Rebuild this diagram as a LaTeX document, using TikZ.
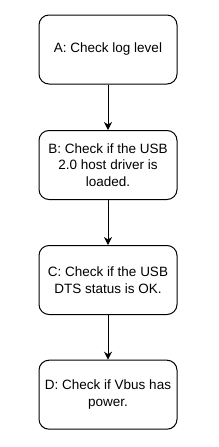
\documentclass[tikz,border=0pt]{standalone}
\usepackage{fontspec}
\setmainfont{Liberation Sans}
\usetikzlibrary{arrows.meta}
\begin{document}
\begin{tikzpicture}[x=1pt,y=-1pt,
  stepbox/.style={draw=black, line width=1pt, rounded corners=10pt, minimum width=138pt, minimum height=69pt,
    align=center, inner sep=0pt, font=\fontsize{13.5pt}{16.5pt}\selectfont},
  conn/.style={draw=black, line width=1pt, -{Stealth[length=8pt,width=8pt,inset=2.5pt]}}]
\useasboundingbox (0,0) rectangle (219,447);
\node[stepbox] (a) at (108,49.5) {A: Check log level};
\node[stepbox] (b) at (108,165) {B: Check if the USB\\2.0 host driver is\\loaded.};
\node[stepbox] (c) at (108,280) {C: Check if the USB\\DTS status is OK.};
\node[stepbox] (d) at (108,394.7) {D: Check if Vbus has\\power.};
\draw[conn] (a) -- (b);
\draw[conn] (b) -- (c);
\draw[conn] (c) -- (d);
\end{tikzpicture}
\end{document}
